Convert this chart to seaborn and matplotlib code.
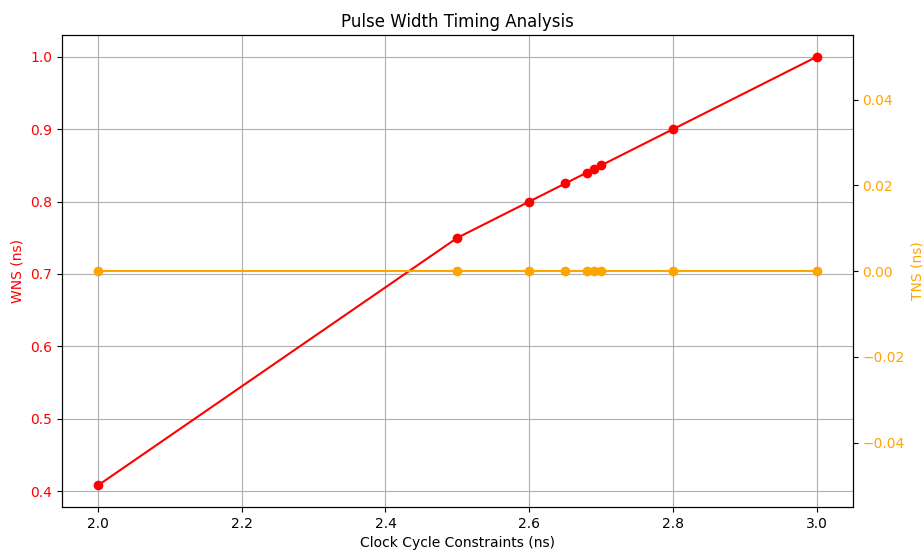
import matplotlib
matplotlib.use("Agg")
import matplotlib.pyplot as plt
import seaborn as sns
import pandas as pd

clock = [2.0, 2.5, 2.6, 2.65, 2.68, 2.69, 2.7, 2.8, 3.0]
wns = [0.408, 0.75, 0.8, 0.825, 0.84, 0.845, 0.85, 0.9, 1.0]
tns = [0.0, 0.0, 0.0, 0.0, 0.0, 0.0, 0.0, 0.0, 0.0]

df = pd.DataFrame({"clock": clock, "wns": wns, "tns": tns})

fig, ax1 = plt.subplots(figsize=(9.24, 5.51), dpi=100)
fig.subplots_adjust(left=0.067, right=0.923, top=0.936, bottom=0.08)

sns.lineplot(data=df, x="clock", y="wns", ax=ax1, color="red", marker="o",
             markersize=7, markeredgewidth=0, linewidth=1.5)
ax1.set_xlabel("Clock Cycle Constraints (ns)")
ax1.set_ylabel("WNS (ns)", color="red")
ax1.tick_params(axis="y", labelcolor="red")
ax1.grid(True)
ax1.set_title("Pulse Width Timing Analysis")

ax2 = ax1.twinx()
sns.lineplot(data=df, x="clock", y="tns", ax=ax2, color="orange", marker="o",
             markersize=7, markeredgewidth=0, linewidth=1.5)
ax2.set_ylabel("TNS (ns)", color="orange")
ax2.tick_params(axis="y", labelcolor="orange")

fig.savefig("out.png", dpi=100)
